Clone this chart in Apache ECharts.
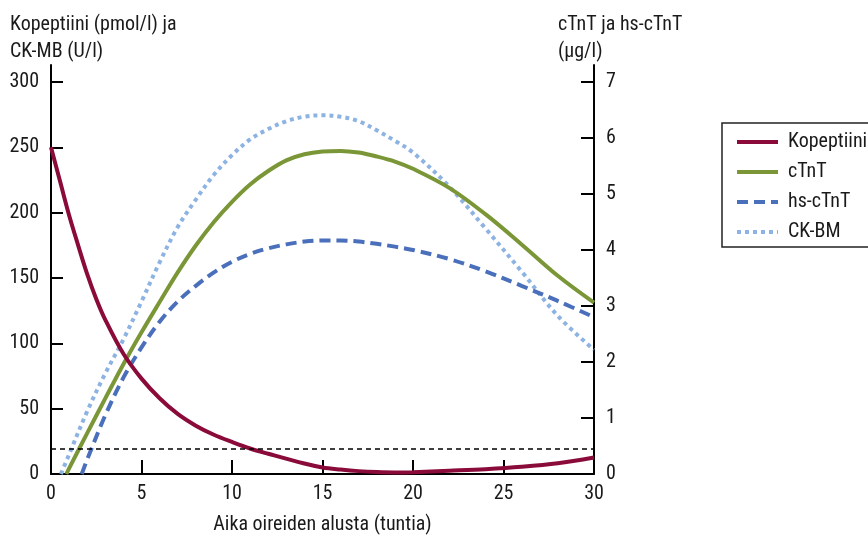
<!DOCTYPE html>
<html><head><meta charset="utf-8">
<script src="https://cdn.jsdelivr.net/npm/echarts@6/dist/echarts.min.js"></script>
<style>html,body{margin:0;padding:0;background:#fff;overflow:hidden}#c{width:868px;height:537px}</style>
</head><body><div id="c"></div>
<script>
// Kopeptiini (pmol/l), left axis
const kopTime = [0,0.5,1,1.5,2,2.5,3,4,5,6,7,8,9,10,11,12,14,15,16,17,18,19,20,22,24,26,28,30];
const kopVals = [250,224,198,175,153,134,118,92,73,58,46,37,30,24.5,19.5,15.5,8,5,3.4,2.2,1.5,1.2,1.4,2.5,3.7,5.5,8.2,12.6];
// cTnT (µg/l), right axis
const ctntTime = [0.85,1,2,3,4,5,6,7,8,9,10,11,12,13,14,15,16,17,18,19,20,22,24,26,28,30];
const ctntVals = [0,0.1,0.73,1.35,1.96,2.53,3.07,3.6,4.08,4.5,4.86,5.17,5.41,5.6,5.71,5.76,5.77,5.74,5.67,5.58,5.45,5.11,4.64,4.10,3.54,3.06];
// hs-cTnT (µg/l), right axis
const hsTime = [1.7,2,3,4,5,6,7,8,9,10,11,12,13,14,15,16,17,18,19,20,22,24,26,28,30];
const hsVals = [0,0.26,1.05,1.72,2.26,2.72,3.08,3.36,3.6,3.79,3.93,4.03,4.1,4.15,4.17,4.17,4.15,4.11,4.06,4.0,3.84,3.62,3.36,3.09,2.80];
// CK-MB (U/l), left axis
const ckTime = [0.55,1,2,3,4,5,6,7,8,9,10,11,12,13,14,15,16,17,18,19,20,22,24,26,28,30];
const ckVals = [0,15,48,77,103,132,162,189,210,229,244,256,264,270,273.5,274.5,273.4,270,263,255,246,220,188,155,121,95];
const cutoff = 19;
const leftTicks = [0,50,100,150,200,250,300];
const rightTicks = [0,1,2,3,4,5,6,7];
const xTicks = [0,5,10,15,20,25,30];

const zip = (t, v) => t.map((x, i) => [x, v[i]]);
const FAM = '"Roboto Condensed","Liberation Sans Narrow","DejaVu Sans Condensed",Roboto,sans-serif';
const TXT = '#1a1a1a';
const ts = (size) => ({fontFamily: FAM, fontSize: size, color: TXT});

const chart = echarts.init(document.getElementById('c'), null, {renderer: 'canvas'});
chart.setOption({
  animation: false,
  textStyle: {fontFamily: FAM, color: TXT},
  grid: {left: 51, right: 274, top: 65, bottom: 63, outerBoundsMode: 'none', containLabel: false},
  graphic: [
    {type: 'text', left: 10, top: 11, style: {text: 'Kopeptiini (pmol/l) ja\nCK-MB (U/l)', font: '20px ' + FAM, fill: TXT, lineHeight: 27}},
    {type: 'text', left: 558, top: 11, style: {text: 'cTnT ja hs-cTnT\n(μg/l)', font: '20px ' + FAM, fill: TXT, lineHeight: 27}}
  ],
  legend: {
    orient: 'vertical', left: 722, top: 123,
    data: ['Kopeptiini', 'cTnT', 'hs-cTnT', 'CK-BM'],
    itemWidth: 41, itemHeight: 14, itemGap: 10,
    padding: [9, 40, 5, 13],
    borderColor: '#222', borderWidth: 1.5,
    itemStyle: {opacity: 0},
    lineStyle: {width: 4},
    textStyle: Object.assign(ts(20), {padding: [0, 0, 0, 5]})
  },
  xAxis: {
    type: 'value', min: 0, max: 30, interval: 5,
    name: 'Aika oireiden alusta (tuntia)', nameLocation: 'middle', nameGap: 41,
    nameTextStyle: ts(20),
    axisLine: {lineStyle: {color: '#000', width: 2}},
    axisTick: {inside: true, length: 14, lineStyle: {color: '#000', width: 2}, customValues: xTicks},
    axisLabel: Object.assign(ts(20), {margin: 10, customValues: xTicks}),
    splitLine: {show: false}
  },
  yAxis: [
    {
      type: 'value', min: 0, max: 300 * 409 / 392, position: 'left',
      axisLine: {show: true, lineStyle: {color: '#000', width: 2}},
      axisTick: {show: true, inside: true, length: 12, lineStyle: {color: '#000', width: 2}, customValues: leftTicks},
      axisLabel: Object.assign(ts(20), {margin: 12, customValues: leftTicks}),
      splitLine: {show: false}
    },
    {
      type: 'value', min: 0, max: 7 * 409 / 392, position: 'right',
      axisLine: {show: true, lineStyle: {color: '#000', width: 2}},
      axisTick: {show: true, inside: true, length: 13, lineStyle: {color: '#000', width: 2}, customValues: rightTicks},
      axisLabel: Object.assign(ts(20), {margin: 12, customValues: rightTicks}),
      splitLine: {show: false}
    }
  ],
  series: [
    {name: 'CK-BM', type: 'line', yAxisIndex: 0, smooth: 0.35, symbol: 'none',
     data: zip(ckTime, ckVals), color: '#8DB3E2',
     lineStyle: {width: 4, type: [4, 4], color: '#8DB3E2'}},
    {name: 'hs-cTnT', type: 'line', yAxisIndex: 1, smooth: 0.35, symbol: 'none',
     data: zip(hsTime, hsVals), color: '#4A6FBB',
     lineStyle: {width: 4, type: [11, 6], color: '#4A6FBB'}},
    {name: 'cTnT', type: 'line', yAxisIndex: 1, smooth: 0.35, symbol: 'none',
     data: zip(ctntTime, ctntVals), color: '#7A9637',
     lineStyle: {width: 4, color: '#7A9637'}},
    {name: 'Kopeptiini', type: 'line', yAxisIndex: 0, smooth: 0.35, symbol: 'none',
     data: zip(kopTime, kopVals), color: '#8A0B3A',
     lineStyle: {width: 4, color: '#8A0B3A'},
     markLine: {silent: true, symbol: 'none', label: {show: false},
       lineStyle: {color: '#000', type: [5, 4], width: 1.5},
       data: [{yAxis: cutoff}]}}
  ]
});
</script></body></html>
